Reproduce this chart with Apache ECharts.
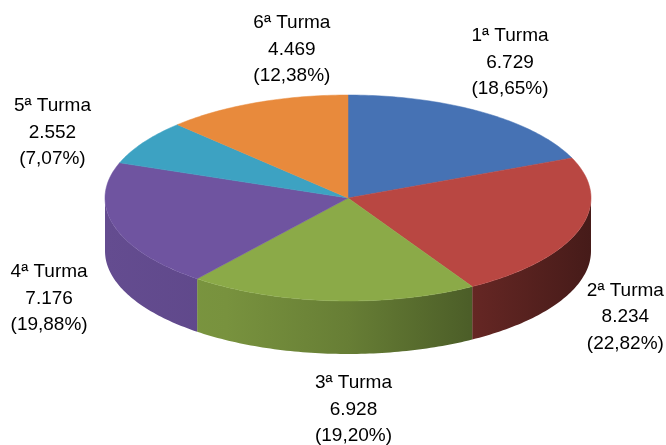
<!DOCTYPE html>
<html>
<head>
<meta charset="utf-8">
<script src="https://cdn.jsdelivr.net/npm/echarts@6/dist/echarts.min.js"></script>
<style>
  html, body { margin: 0; padding: 0; background: #fff; }
  #main { width: 666px; height: 445px; }
</style>
</head>
<body>
<div id="main"></div>
<script>
var categories = ["1ª Turma", "2ª Turma", "3ª Turma", "4ª Turma", "5ª Turma", "6ª Turma"];
var values = [6729, 8234, 6928, 7176, 2552, 4469];
var colors = ["#4672B4", "#B94742", "#8BAA48", "#6F54A0", "#3DA2C2", "#E88A3C"];

// pie geometry (ellipse of the top face, wall depth)
var cx = 348, cy = 198, rx = 243, ry = 103, depth = 53;
// small label shifts, like Excel's "best fit"
var labelNudge = [[0, -8], [-1, 18], [25, 6], [-17, 6], [-49, 17], [55, -7]];

var total = values.reduce(function (a, b) { return a + b; }, 0);
var starts = [];
var acc = 0;
values.forEach(function (v) { starts.push(acc); acc += v; });

function pt(a, dy) {
  return [cx + rx * Math.sin(a), cy - ry * Math.cos(a) + (dy || 0)];
}

function arc(a0, a1, dy) {
  var pts = [];
  var n = Math.max(2, Math.ceil((a1 - a0) / (Math.PI / 180)));
  for (var i = 0; i <= n; i++) {
    pts.push(pt(a0 + (a1 - a0) * i / n, dy));
  }
  return pts;
}

function shade(hex, f) {
  var c = echarts.color.parse(hex);
  return "rgb(" + Math.round(c[0] * f) + "," + Math.round(c[1] * f) + "," + Math.round(c[2] * f) + ")";
}

function fmtNum(v) {
  return String(v).replace(/\B(?=(\d{3})+(?!\d))/g, ".");
}

function fmtPct(v) {
  return (v / total * 100).toFixed(2).replace(".", ",");
}

var chart = echarts.init(document.getElementById("main"));

chart.setOption({
  animation: false,
  series: [{
    type: "custom",
    coordinateSystem: "none",
    data: values.map(function (v) { return [v]; }),
    renderItem: function (params, api) {
      var i = params.dataIndex;
      var v = api.value(0);
      var a0 = starts[i] / total * Math.PI * 2;
      var a1 = (starts[i] + v) / total * Math.PI * 2;
      var col = colors[i];
      var children = [];

      // front wall
      var w0 = Math.max(a0, Math.PI / 2), w1 = Math.min(a1, Math.PI * 1.5);
      if (w1 > w0) {
        var top = arc(w0, w1, 0);
        var bot = arc(w0, w1, depth).reverse();
        children.push({
          type: "polygon",
          shape: { points: top.concat(bot) },
          style: {
            fill: {
              type: "linear", x: cx - rx, y: 0, x2: cx + rx, y2: 0, global: true,
              colorStops: [
                { offset: 0, color: shade(col, 0.9) },
                { offset: 0.25, color: shade(col, 0.86) },
                { offset: 0.5, color: shade(col, 0.74) },
                { offset: 0.75, color: shade(col, 0.55) },
                { offset: 1, color: shade(col, 0.38) }
              ]
            }
          },
          z2: 1
        });
      }

      // top face
      children.push({
        type: "polygon",
        shape: { points: [[cx, cy]].concat(arc(a0, a1, 0)) },
        style: { fill: col, stroke: col, lineWidth: 0.5 },
        z2: 2
      });

      // label
      var m = (a0 + a1) / 2;
      var s = Math.sin(m), c = Math.cos(m);
      var g = 10;
      var px = cx + (rx + g) * s;
      var py = cy - (ry + g) * c + (c < 0 ? depth : 0);
      var lx = px + 40 * s + labelNudge[i][0];
      var ly = py - 40 * c + labelNudge[i][1];
      children.push({
        type: "text",
        style: {
          text: categories[i] + "\n" + fmtNum(v) + "\n(" + fmtPct(v) + "%)",
          x: lx,
          y: ly,
          textAlign: "center",
          textVerticalAlign: "middle",
          font: "19px 'Liberation Sans', Arial, sans-serif",
          lineHeight: 26.5,
          fill: "#000"
        },
        z2: 3
      });

      return { type: "group", children: children };
    }
  }]
});
</script>
</body>
</html>
